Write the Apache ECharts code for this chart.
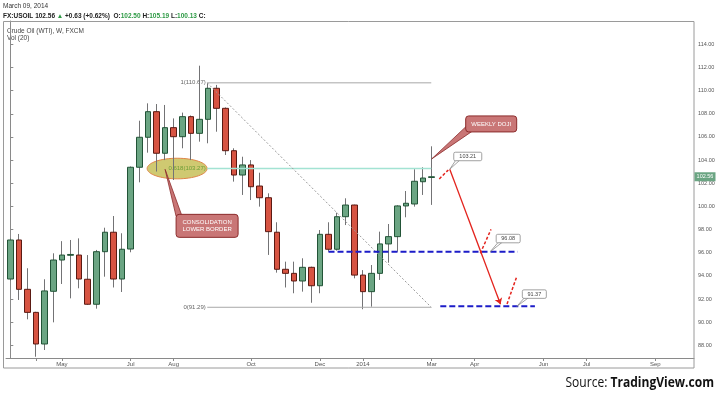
<!DOCTYPE html>
<html>
<head>
<meta charset="utf-8">
<script src="https://cdn.jsdelivr.net/npm/echarts@6/dist/echarts.min.js"></script>
<style>
  html, body { margin: 0; padding: 0; background: #fff; }
  #chart { width: 720px; height: 397px; }
</style>
</head>
<body>
<div id="chart"></div>
<script>
  // weekly bars, first bar = week of 24 Mar 2013, last = week of 2 Mar 2014
  const startDate = '2013-03-24'
  const weekCount = 80

  const opens  = [93.73, 97.10, 92.84, 90.85, 88.12, 92.67, 95.37, 95.78, 95.80, 93.71,
                  91.55, 96.09, 97.77, 93.73, 96.32, 103.38, 105.97, 108.18, 104.59, 106.80,
                  106.02, 107.75, 106.31, 107.52, 110.20, 108.47, 104.81, 102.71, 103.58, 101.76,
                  100.75, 97.77, 94.57, 94.22, 93.56, 94.74, 93.15, 97.59, 96.30, 99.11,
                  100.12, 94.07, 92.64, 94.22, 96.76, 97.39, 100.04, 100.21, 102.13, 102.50]
  const closes = [97.10, 92.84, 90.85, 88.12, 92.70, 95.37, 95.80, 95.85, 93.73, 91.55,
                  96.09, 97.77, 93.73, 96.30, 103.38, 105.97, 108.18, 104.59, 106.80, 106.02,
                  107.75, 106.31, 107.52, 110.20, 108.47, 104.81, 102.71, 103.58, 101.70, 100.75,
                  97.82, 94.57, 94.22, 93.56, 94.74, 93.15, 97.59, 96.30, 99.11, 100.12,
                  94.07, 92.64, 94.22, 96.76, 97.39, 100.04, 100.27, 102.17, 102.45, 102.56]
  const lows   = [93.59, 91.92, 90.25, 87.02, 87.60, 89.99, 93.30, 92.06, 92.93, 91.50,
                  91.17, 93.93, 93.00, 92.61, 96.04, 102.08, 104.64, 103.01, 104.00, 102.28,
                  105.02, 104.00, 105.59, 105.45, 106.45, 104.44, 102.14, 100.99, 100.55, 99.98,
                  95.81, 94.28, 93.00, 92.50, 92.64, 91.68, 92.50, 96.09, 96.18, 98.39,
                  93.79, 91.12, 91.34, 93.65, 95.14, 96.09, 99.06, 99.98, 100.99, 100.13]
  const highs  = [97.24, 97.62, 94.66, 90.90, 93.71, 95.95, 97.00, 97.10, 97.24, 95.80,
                  96.24, 98.16, 99.17, 97.68, 103.45, 107.40, 108.90, 108.84, 108.76, 107.60,
                  108.10, 107.85, 112.15, 110.67, 110.49, 108.55, 105.02, 104.29, 104.00, 102.91,
                  101.13, 98.63, 95.23, 95.23, 95.52, 94.80, 97.96, 98.63, 99.46, 100.70,
                  100.15, 94.50, 94.94, 97.82, 98.48, 100.10, 101.33, 103.21, 103.38, 105.19]

  const tickIdx  = [3, 6, 14, 19, 28, 36, 41, 49, 54, 62, 67, 75]
  const tickText = ['', 'May', 'Jul', 'Aug', 'Oct', 'Dec', '2014', 'Mar', 'Apr', 'Jun', 'Jul', 'Sep']
  const priceTicks = [88, 90, 92, 94, 96, 98, 100, 102, 104, 106, 108, 110, 112, 114]

  const fibLevels = [110.67, 103.27, 91.29]   // 1, 0.618, 0
  const targets = [103.21, 96.08, 91.37]
  const lastPrice = 102.56

  let weeks = []
  let d0 = new Date(startDate + 'T00:00:00Z')
  for (let i = 0; i < weekCount; i++) {
    let d = new Date(d0.getTime() + i * 7 * 86400000)
    weeks.push(d.toISOString().slice(0, 10))
  }

  let wickData = opens.map((o, i) => [o, closes[i], lows[i], highs[i]])
  let bodyData = opens.map((o, i) => [o, closes[i], Math.min(o, closes[i]), Math.max(o, closes[i])])

  const FONT = 'Liberation Sans'
  let chart = echarts.init(document.getElementById('chart'))

  function seg(pts, style) {
    return {
      type: 'line', xAxisIndex: 1, yAxisIndex: 0, data: pts, symbol: 'none',
      silent: true, z: 3, lineStyle: style
    }
  }

  let blueLine = seg([[37, targets[1]], [59, targets[1]]], { color: '#1c1cc8', width: 2, type: [6, 3] })
  blueLine.markLine = {
    silent: true,
    symbol: ['none', 'arrow'],
    symbolSize: 6,
    label: { show: false },
    lineStyle: { color: '#e3231d', width: 1.3, type: 'solid' },
    data: [[{ coord: [51.1, targets[0]] }, { coord: [57, 91.55] }]]
  }

  chart.setOption({
    animation: false,
    grid: { left: 6, right: 26, top: 21, bottom: 39 },
    xAxis: [
      {
        type: 'category',
        data: weeks,
        boundaryGap: true,
        axisLine: { lineStyle: { color: '#8a8a8a' } },
        axisTick: {
          show: true, alignWithLabel: true, length: 3,
          interval: (idx) => tickIdx.includes(idx),
          lineStyle: { color: '#8a8a8a' }
        },
        axisLabel: {
          interval: (idx) => tickIdx.includes(idx),
          formatter: (v, idx) => tickText[tickIdx.indexOf(idx)] || '',
          fontSize: 6, color: '#555', margin: 3, fontFamily: FONT
        },
        splitLine: { show: false }
      },
      { type: 'value', min: -0.5, max: weekCount - 0.5, show: false }
    ],
    yAxis: {
      type: 'value',
      position: 'right',
      min: 86.91,
      max: 116.01,
      axisLine: { show: true, lineStyle: { color: '#8a8a8a' } },
      axisTick: { show: true, length: 3, customValues: priceTicks, lineStyle: { color: '#8a8a8a' } },
      axisLabel: {
        customValues: priceTicks,
        formatter: (v) => v.toFixed(2),
        fontSize: 5.5, color: '#555', margin: 4, fontFamily: FONT
      },
      splitLine: { show: false }
    },
    series: [
      {
        name: 'wick', type: 'candlestick', data: wickData, barWidth: 1, z: 2,
        itemStyle: { color: '#737375', color0: '#737375', borderColor: '#737375', borderColor0: '#737375', borderWidth: 1 }
      },
      {
        name: 'body', type: 'candlestick', data: bodyData, barWidth: 6, z: 2,
        itemStyle: { color: '#6ba583', color0: '#d75442', borderColor: '#225437', borderColor0: '#5b1a13', borderWidth: 1 }
      },
      // fibonacci retracement
      seg([[22.9, fibLevels[0]], [48.95, fibLevels[0]]], { color: '#a8a8a8', width: 1 }),
      seg([[22.9, fibLevels[1]], [48.95, fibLevels[1]]], { color: '#a3e3d3', width: 1.5 }),
      seg([[22.9, fibLevels[2]], [48.95, fibLevels[2]]], { color: '#a8a8a8', width: 1 }),
      seg([[22.9, fibLevels[0]], [48.95, fibLevels[2]]], { color: '#9a9a9a', width: 1, type: [2, 2] }),
      // support levels
      blueLine,
      seg([[50, targets[2]], [61, targets[2]]], { color: '#1c1cc8', width: 2, type: [6, 3] }),
      // red rebound dashes
      seg([[49.88, 102.37], [50.93, 103.15]], { color: '#e3231d', width: 1.5, type: [3, 2] }),
      seg([[54.65, 95.95], [55.9, 98.02]], { color: '#e3231d', width: 1.5, type: [3, 2] }),
      seg([[57.76, 91.57], [58.92, 94.01]], { color: '#e3231d', width: 1.5, type: [3, 2] })
    ]
  })

  const P = (i, p) => chart.convertToPixel({ xAxisIndex: 1, yAxisIndex: 0 }, [i, p])

  function priceBox(tip, dx, dy, w, text) {
    let bx = tip[0] + dx, by = tip[1] + dy
    return [
      { type: 'polygon', z: 20, shape: { points: [[bx + 2, by + 8], tip, [bx + 6, by + 8]] },
        style: { fill: '#fff', stroke: '#8a8a8a', lineWidth: 0.8 } },
      { type: 'rect', z: 21, shape: { x: bx, y: by, width: w, height: 8.5, r: 1.5 },
        style: { fill: '#fff', stroke: '#8a8a8a', lineWidth: 0.8 } },
      { type: 'text', z: 22, x: bx + w / 2, y: by + 4.6,
        style: { text: text, fill: '#444', fontSize: 5.5, fontFamily: FONT, align: 'center', verticalAlign: 'middle' } }
    ]
  }

  let fibX = P(22.9, 0)[0] - 1.5
  let ell = P(19.4, fibLevels[1])
  let consTip = P(18, 103.2)
  let dojiTip = P(49, 104.1)
  let lastY = P(0, lastPrice)[1]

  let g = [
    // frame
    { type: 'rect', z: 1, shape: { x: 3.5, y: 21.5, width: 690.5, height: 346.5 },
      style: { fill: 'none', stroke: '#9a9a9a', lineWidth: 1 } },
    // header
    { type: 'text', x: 3, y: 6, style: { text: 'March 09, 2014', fill: '#333', fontSize: 6.5, fontFamily: FONT, verticalAlign: 'middle' } },
    { type: 'text', x: 3, y: 16.5, style: {
        text: '{b|FX:USOIL 102.56 }{g|▲}{b| +0.63 (+0.62%)  O:}{g|102.50}{b| H:}{g|105.19}{b| L:}{g|100.13}{b| C:}',
        verticalAlign: 'middle',
        rich: {
          b: { fill: '#222', fontWeight: 'bold', fontSize: 6.5, fontFamily: FONT },
          g: { fill: '#2e9a45', fontWeight: 'bold', fontSize: 6.5, fontFamily: FONT }
        } } },
    { type: 'text', x: 7, y: 31, style: { text: 'Crude Oil (WTI), W, FXCM', fill: '#444', fontSize: 6.5, fontFamily: FONT, verticalAlign: 'middle' } },
    { type: 'text', x: 7, y: 38.5, style: { text: 'Vol (20)', fill: '#444', fontSize: 6.5, fontFamily: FONT, verticalAlign: 'middle' } },
    // fib labels
    { type: 'text', x: fibX, y: P(0, fibLevels[0])[1], style: { text: '1(110.67)', fill: '#666', fontSize: 6, fontFamily: FONT, align: 'right', verticalAlign: 'middle' } },
    { type: 'text', x: fibX, y: P(0, fibLevels[2])[1], style: { text: '0(91.29)', fill: '#666', fontSize: 6, fontFamily: FONT, align: 'right', verticalAlign: 'middle' } },
    // ellipse round the 0.618 level
    { type: 'ellipse', z: 1, shape: { cx: ell[0], cy: ell[1], rx: 30, ry: 10.3 },
      style: { fill: 'rgba(202,195,98,0.9)', stroke: '#de8446', lineWidth: 1 } },
    { type: 'text', z: 5, x: fibX, y: ell[1], style: { text: '0.618(103.27)', fill: '#6d9e38', fontSize: 6, fontFamily: FONT, align: 'right', verticalAlign: 'middle' } },
    // consolidation callout
    { type: 'polygon', z: 20, shape: { points: [consTip, [consTip[0] + 11, consTip[1] + 47], [consTip[0] + 17, consTip[1] + 47]] },
      style: { fill: '#c97676', stroke: '#8c2c2c', lineWidth: 0.8 } },
    { type: 'rect', z: 21, shape: { x: consTip[0] + 11, y: consTip[1] + 45, width: 62, height: 23, r: 3 },
      style: { fill: '#c97676', stroke: '#8c2c2c', lineWidth: 1 } },
    { type: 'text', z: 22, x: consTip[0] + 42, y: consTip[1] + 56.5,
      style: { text: 'CONSOLIDATION\nLOWER BORDER', fill: '#fff', fontSize: 6, lineHeight: 7, fontFamily: FONT, align: 'center', verticalAlign: 'middle' } },
    // weekly doji callout
    { type: 'polygon', z: 20, shape: { points: [dojiTip, [dojiTip[0] + 35, dojiTip[1] - 33], [dojiTip[0] + 41, dojiTip[1] - 28]] },
      style: { fill: '#c97676', stroke: '#8c2c2c', lineWidth: 0.8 } },
    { type: 'rect', z: 21, shape: { x: dojiTip[0] + 34, y: dojiTip[1] - 43, width: 51, height: 16, r: 3 },
      style: { fill: '#c97676', stroke: '#8c2c2c', lineWidth: 1 } },
    { type: 'text', z: 22, x: dojiTip[0] + 59.5, y: dojiTip[1] - 35,
      style: { text: 'WEEKLY DOJI', fill: '#fff', fontSize: 6, fontFamily: FONT, align: 'center', verticalAlign: 'middle' } },
    // last price tag
    { type: 'rect', z: 21, shape: { x: 694.5, y: lastY - 4.5, width: 21, height: 9 }, style: { fill: '#6ba583' } },
    { type: 'text', z: 22, x: 705, y: lastY, style: { text: lastPrice.toFixed(2), fill: '#fff', fontSize: 5.5, fontFamily: FONT, align: 'center', verticalAlign: 'middle' } },
    // source
    { type: 'text', x: 714, y: 383, scaleX: 0.86, originX: 0, originY: 0, style: {
        text: '{a|Source: }{b|TradingView.com}', align: 'right', verticalAlign: 'middle',
        rich: {
          a: { fill: '#111', fontSize: 14, fontFamily: 'Open Sans' },
          b: { fill: '#111', fontSize: 14, fontWeight: 'bold', fontFamily: 'Open Sans' }
        } } }
  ]
  g = g.concat(priceBox(P(51.1, targets[0]), 4, -17, 28, '103.21'))
  g = g.concat(priceBox(P(55.8, targets[1]), 6, -17.5, 24, '96.08'))
  g = g.concat(priceBox(P(58.9, targets[2]), 5.5, -16.5, 24, '91.37'))

  chart.setOption({ graphic: g })
  window.addEventListener('resize', () => chart.resize())
</script>
</body>
</html>
